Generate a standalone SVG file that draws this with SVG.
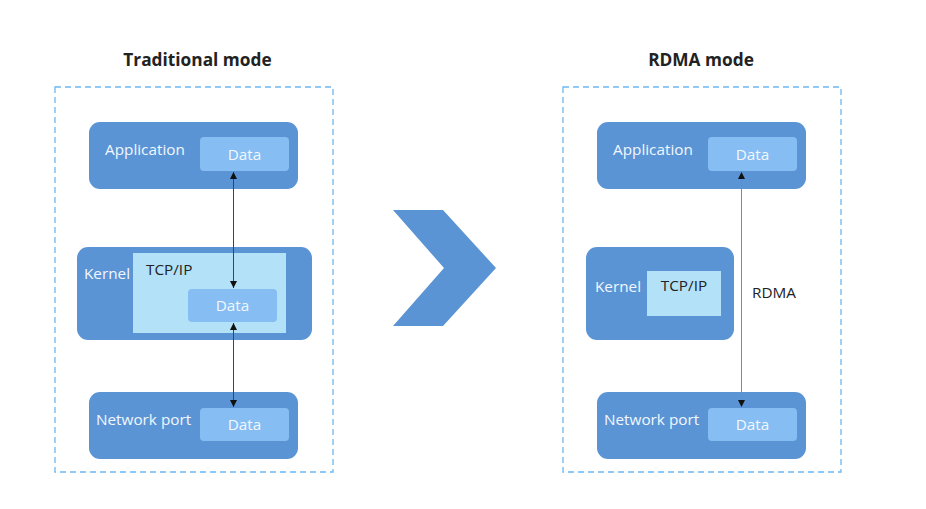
<svg xmlns="http://www.w3.org/2000/svg" width="926" height="509" viewBox="0 0 926 509">
<style>
text{font-family:"Open Sans","DejaVu Sans",sans-serif}
.title{font-size:17.3px;font-weight:bold;fill:#222;text-anchor:middle}
.frame{fill:none;stroke:#6CB8F2;stroke-width:1.3;stroke-dasharray:6 4}
.box{fill:#5B94D4}
.data{fill:#86BDF2}
.tcp{fill:#B3E1F8}
.lbl{font-size:15.3px;fill:#F2F7FF}
.dl{font-size:15.3px;fill:#F2F7FF;text-anchor:middle}
.dark{font-size:15.3px;fill:#222}
.con{fill:none;stroke-width:1}
</style>
<defs>
<marker id="ah" viewBox="0 0 10 10" refX="10" refY="5" markerWidth="7" markerHeight="7" orient="auto-start-reverse" markerUnits="userSpaceOnUse">
<path d="M0,0 L10,5 L0,10 z" fill="#111"/>
</marker>
</defs>
<rect width="926" height="509" fill="#fff"/>
<text class="title" x="197.5" y="66">Traditional mode</text>
<text class="title" x="701" y="66">RDMA mode</text>
<rect class="frame" x="55" y="87" width="278" height="385"/>
<rect class="frame" x="563" y="87" width="278" height="385"/>
<g id="chevron"><polygon points="393,210 443,210 496,268 443,326 393,326 444,268" fill="#5B94D4"/></g>
<g id="l-app"><rect class="box" x="89" y="122" width="209" height="67" rx="11"/><text class="lbl" x="105" y="155">Application</text><rect class="data" x="200" y="137" width="89" height="34" rx="4"/><text class="dl" x="244.5" y="160">Data</text></g>
<g id="l-kernel"><rect class="box" x="77" y="247" width="235" height="93" rx="11"/><text class="lbl" x="84" y="279">Kernel</text><rect class="tcp" x="133" y="253" width="153" height="80"/><text class="dark" x="146" y="275">TCP/IP</text><rect class="data" x="188" y="289" width="89" height="33" rx="4"/><text class="dl" x="232.5" y="311">Data</text></g>
<g id="l-net"><rect class="box" x="89" y="392" width="209" height="67" rx="11"/><text class="lbl" x="96" y="425">Network port</text><rect class="data" x="200" y="408" width="89" height="33" rx="4"/><text class="dl" x="244.5" y="430">Data</text></g>
<g id="r-app"><rect class="box" x="597" y="122" width="209" height="67" rx="11"/><text class="lbl" x="613" y="155">Application</text><rect class="data" x="708" y="137" width="89" height="34" rx="4"/><text class="dl" x="752.5" y="160">Data</text></g>
<g id="r-kernel"><rect class="box" x="586" y="247" width="148" height="93" rx="11"/><text class="lbl" x="595" y="292">Kernel</text><rect class="tcp" x="647" y="271" width="74" height="45"/><text class="dark" x="684" y="291" text-anchor="middle">TCP/IP</text></g>
<g id="r-net"><rect class="box" x="597" y="392" width="209" height="67" rx="11"/><text class="lbl" x="604" y="425">Network port</text><rect class="data" x="708" y="408" width="89" height="33" rx="4"/><text class="dl" x="752.5" y="430">Data</text></g>
<g id="connectors">
<line class="con" x1="233.5" y1="172" x2="233.5" y2="288" stroke="#444" marker-start="url(#ah)" marker-end="url(#ah)"/>
<line class="con" x1="233.5" y1="323" x2="233.5" y2="407" stroke="#444" marker-start="url(#ah)" marker-end="url(#ah)"/>
<line class="con" x1="741.5" y1="172" x2="741.5" y2="407" stroke="#888" marker-start="url(#ah)" marker-end="url(#ah)"/>
<text class="dark" x="752" y="298" font-size="14.5">RDMA</text>
</g>
</svg>
